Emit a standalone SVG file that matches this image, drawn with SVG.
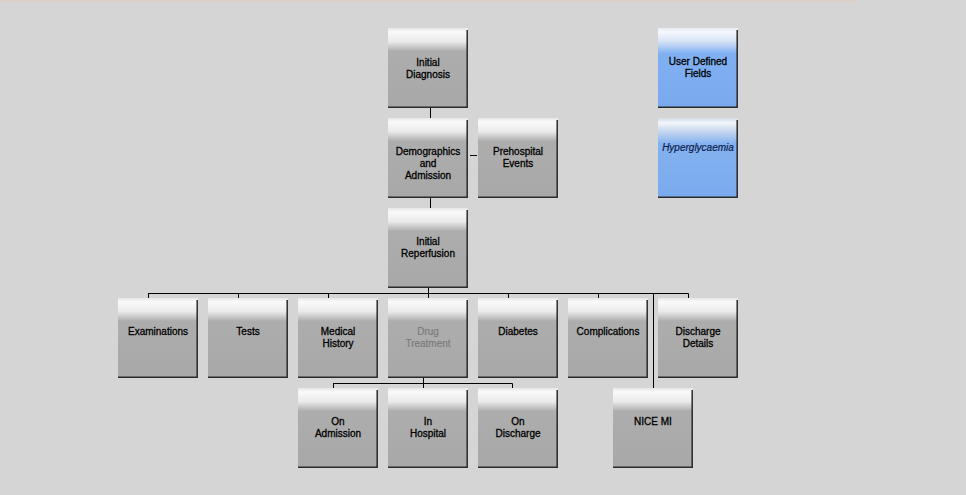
<svg xmlns="http://www.w3.org/2000/svg" width="966" height="495" viewBox="0 0 966 495">
<defs>
<linearGradient id="gGray" x1="0" y1="0" x2="0" y2="1">
<stop offset="0" stop-color="#e6e6e6"/>
<stop offset="0.05" stop-color="#fafafa"/>
<stop offset="0.17" stop-color="#eaeaea"/>
<stop offset="0.29" stop-color="#adadad"/>
<stop offset="1" stop-color="#a8a8a8"/>
</linearGradient>
<linearGradient id="gBlue" x1="0" y1="0" x2="0" y2="1">
<stop offset="0" stop-color="#e4ecf6"/>
<stop offset="0.05" stop-color="#f6f8fc"/>
<stop offset="0.17" stop-color="#d4e2f6"/>
<stop offset="0.32" stop-color="#80b0f2"/>
<stop offset="1" stop-color="#7aaaee"/>
</linearGradient>
<linearGradient id="gBlue2" x1="0" y1="0" x2="0" y2="1">
<stop offset="0" stop-color="#d4dce6"/>
<stop offset="0.06" stop-color="#f2f5fa"/>
<stop offset="0.17" stop-color="#c4d6ee"/>
<stop offset="0.32" stop-color="#84b2f0"/>
<stop offset="1" stop-color="#7aaaee"/>
</linearGradient>
</defs>
<style>
.box{fill:url(#gGray)}
.blue{fill:url(#gBlue)}
.edge{fill:none;stroke:#2a2a2a;stroke-width:1.5}
.t{font-family:"Liberation Sans",Arial,sans-serif;font-size:10px;fill:#000;stroke:#000;stroke-width:0.3;text-anchor:middle}
.dim{fill:#7a7a7a;stroke:#7a7a7a;stroke-width:0.15}
.it{font-style:italic;fill:#0c1c4c;stroke:#0c1c4c;stroke-width:0.2}
.conn{fill:none;stroke:#000;stroke-width:1}
</style>
<rect x="0" y="0" width="966" height="495" fill="#d5d5d5"/>
<rect x="0" y="0" width="855" height="2" fill="#dccfc7"/>

<g id="connectors">
<path class="conn" d="M430.5 107V118M470 155.5H477M430.5 197V208M428.5 287V298M148 293.5H688.5M148.5 293.5V298M238.5 293.5V298M328.5 293.5V298M508.5 293.5V298M598.5 293.5V298M688.5 293.5V298M653.5 293.5V388M423.5 377V388M333 383.5H512.5M333.5 383.5V388M512.5 383.5V388"/>
</g>

<g id="node-initial-diagnosis"><rect class="box" x="388" y="28" width="80" height="80"/><path class="edge" d="M467.2 30V107.2H388"/><text class="t" x="428" y="65.5">Initial</text><text class="t" x="428" y="77.5">Diagnosis</text></g>
<g id="node-demographics"><rect class="box" x="388" y="118" width="80" height="80"/><path class="edge" d="M467.2 120V197.2H388"/><text class="t" x="428" y="155">Demographics</text><text class="t" x="428" y="167">and</text><text class="t" x="428" y="179">Admission</text></g>
<g id="node-prehospital"><rect class="box" x="478" y="118" width="80" height="80"/><path class="edge" d="M557.2 120V197.2H478"/><text class="t" x="518" y="155">Prehospital</text><text class="t" x="518" y="167">Events</text></g>
<g id="node-initial-reperfusion"><rect class="box" x="388" y="208" width="80" height="80"/><path class="edge" d="M467.2 210V287.2H388"/><text class="t" x="428" y="245">Initial</text><text class="t" x="428" y="257">Reperfusion</text></g>

<g id="node-examinations"><rect class="box" x="118" y="298" width="80" height="80"/><path class="edge" d="M197.2 300V377.2H118"/><text class="t" x="158" y="335">Examinations</text></g>
<g id="node-tests"><rect class="box" x="208" y="298" width="80" height="80"/><path class="edge" d="M287.2 300V377.2H208"/><text class="t" x="248" y="335">Tests</text></g>
<g id="node-medical-history"><rect class="box" x="298" y="298" width="80" height="80"/><path class="edge" d="M377.2 300V377.2H298"/><text class="t" x="338" y="335">Medical</text><text class="t" x="338" y="347">History</text></g>
<g id="node-drug-treatment"><rect class="box" x="388" y="298" width="80" height="80"/><path class="edge" d="M467.2 300V377.2H388"/><text class="t dim" x="428" y="335">Drug</text><text class="t dim" x="428" y="347">Treatment</text></g>
<g id="node-diabetes"><rect class="box" x="478" y="298" width="80" height="80"/><path class="edge" d="M557.2 300V377.2H478"/><text class="t" x="518" y="335">Diabetes</text></g>
<g id="node-complications"><rect class="box" x="568" y="298" width="80" height="80"/><path class="edge" d="M647.2 300V377.2H568"/><text class="t" x="608" y="335">Complications</text></g>
<g id="node-discharge-details"><rect class="box" x="658" y="298" width="80" height="80"/><path class="edge" d="M737.2 300V377.2H658"/><text class="t" x="698" y="335">Discharge</text><text class="t" x="698" y="347">Details</text></g>

<g id="node-on-admission"><rect class="box" x="298" y="388" width="80" height="80"/><path class="edge" d="M377.2 390V467.2H298"/><text class="t" x="338" y="425">On</text><text class="t" x="338" y="437">Admission</text></g>
<g id="node-in-hospital"><rect class="box" x="388" y="388" width="80" height="80"/><path class="edge" d="M467.2 390V467.2H388"/><text class="t" x="428" y="425">In</text><text class="t" x="428" y="437">Hospital</text></g>
<g id="node-on-discharge"><rect class="box" x="478" y="388" width="80" height="80"/><path class="edge" d="M557.2 390V467.2H478"/><text class="t" x="518" y="425">On</text><text class="t" x="518" y="437">Discharge</text></g>
<g id="node-nice-mi"><rect class="box" x="613" y="388" width="80" height="80"/><path class="edge" d="M692.2 390V467.2H613"/><text class="t" x="653" y="425">NICE MI</text></g>

<g id="node-user-defined-fields"><rect class="blue" x="658" y="28" width="80" height="80"/><path class="edge" d="M737.2 30V107.2H658"/><text class="t" x="698" y="65">User Defined</text><text class="t" x="698" y="77">Fields</text></g>
<g id="node-hyperglycaemia"><rect x="658" y="118" width="80" height="80" fill="url(#gBlue2)"/><path class="edge" d="M737.2 120V197.2H658"/><text class="t it" x="698" y="151">Hyperglycaemia</text></g>
</svg>
